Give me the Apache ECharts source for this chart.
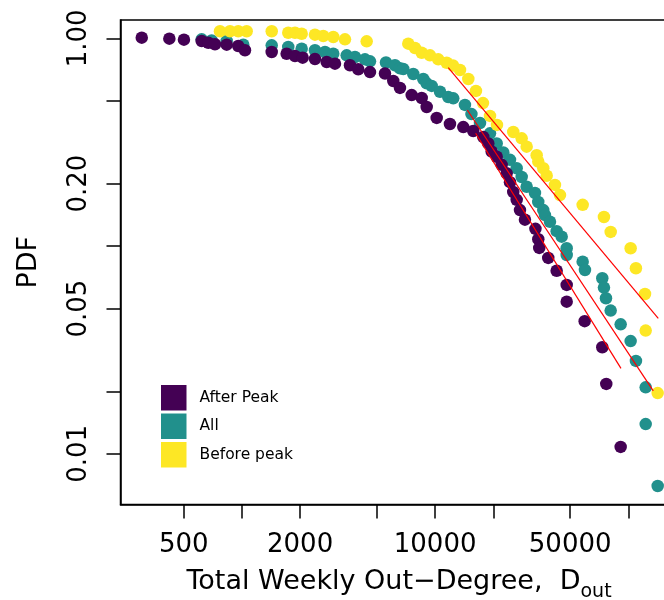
<!DOCTYPE html>
<html>
<head>
<meta charset="utf-8">
<script src="https://cdn.jsdelivr.net/npm/echarts@6/dist/echarts.min.js"></script>
<style>
html, body { margin: 0; padding: 0; background: #fff; }
#main { width: 664px; height: 600px; }
</style>
</head>
<body>
<div id="main"></div>
<script>
// points
var afterX = [303, 421, 501, 619, 670, 725, 834, 957, 1037, 1426, 1704, 1882, 2062, 2388, 2746, 3031, 3624, 4001, 4601, 5501,
    6073, 6577, 7560, 8520, 9041, 10190, 11930, 13990, 15750, 17750, 18840, 19620, 20830, 22100, 23460, 24410, 25380, 26430, 27490, 29170,
    33060, 34190, 34590, 38510, 42570, 47970, 47970, 59430, 73310, 76900, 91280];
var afterY = [1.007, 0.996, 0.985, 0.971, 0.952, 0.936, 0.932, 0.918, 0.876, 0.859, 0.843, 0.822, 0.807, 0.795, 0.769, 0.755, 0.742, 0.709, 0.688, 0.677,
    0.623, 0.577, 0.533, 0.516, 0.467, 0.414, 0.387, 0.374, 0.358, 0.335, 0.312, 0.285, 0.269, 0.246, 0.224, 0.203, 0.182, 0.167, 0.149, 0.134,
    0.121, 0.108, 0.098, 0.0877, 0.0761, 0.065, 0.054, 0.0435, 0.0326, 0.0217, 0.0108];

var allX = [619, 697, 834, 1016, 1426, 1737, 2038, 2388, 2691, 2970, 3485, 3847, 4334, 4601, 5567, 6197, 6577, 6841, 7706, 8683,
    9041, 9596, 10600, 11690, 12410, 14270, 15420, 17070, 19230, 20830, 22530, 24410, 26430, 28050, 29770, 32870, 34190, 36290, 37030, 39310,
    42570, 45190, 47970, 47970, 58030, 59650, 73310, 74800, 76620, 81030, 91280, 102800, 109500, 123000, 123000, 141900];
var allY = [0.989, 0.976, 0.971, 0.932, 0.925, 0.908, 0.891, 0.876, 0.859, 0.843, 0.828, 0.813, 0.792, 0.775, 0.765, 0.742, 0.717, 0.712, 0.673, 0.637,
    0.607, 0.590, 0.553, 0.522, 0.514, 0.478, 0.432, 0.391, 0.349, 0.312, 0.282, 0.260, 0.237, 0.215, 0.193, 0.180, 0.163, 0.149, 0.141, 0.131,
    0.118, 0.111, 0.0976, 0.0906, 0.0841, 0.0767, 0.070, 0.0631, 0.0561, 0.0489, 0.042, 0.0349, 0.028, 0.0209, 0.0139, 0.0070];

var beforeX = [770, 867, 957, 1058, 1426, 1737, 1882, 2038, 2388, 2636, 2970, 3415, 4423, 7261, 7863, 8520, 9404, 10380, 11480, 12370,
    13450, 14850, 16270, 17690, 19230, 20900, 25380, 28050, 29770, 33540, 34190, 36290, 37800, 41720, 44290, 58030, 74800, 81030, 102800, 109500,
    122000, 123000, 141900];
var beforeY = [1.081, 1.081, 1.081, 1.081, 1.081, 1.064, 1.064, 1.052, 1.041, 1.026, 1.015, 0.989, 0.967, 0.942, 0.898, 0.852, 0.828, 0.792, 0.763, 0.740,
    0.704, 0.637, 0.558, 0.488, 0.423, 0.383, 0.354, 0.330, 0.301, 0.274, 0.255, 0.237, 0.218, 0.197, 0.176, 0.158, 0.138, 0.117, 0.0976, 0.0782,
    0.0588, 0.0392, 0.0196];

// fitted power-law tails (end points)
var fitAfterX = [16210, 91600], fitAfterY = [0.349, 0.0258];
var fitAllX = [14670, 134600], fitAllY = [0.452, 0.0201];
var fitBeforeX = [11690, 142900], fitBeforeY = [0.722, 0.0449];

var xTicks = [500, 1000, 2000, 5000, 10000, 20000, 50000, 100000];
var xLabels = [500, 2000, 10000, 50000];
var yTicks = [0.01, 0.02, 0.05, 0.1, 0.2, 0.5, 1];
var yLabels = [0.01, 0.05, 0.2, 1];

var purple = '#440154', teal = '#21908C', yellow = '#FDE725';
var font = 'DejaVu Sans';

function pairs(xs, ys) {
    var out = [];
    for (var i = 0; i < xs.length; i++) out.push([xs[i], ys[i]]);
    return out;
}

function dots(name, color, xs, ys) {
    return {
        name: name, type: 'scatter', data: pairs(xs, ys),
        symbol: 'circle', symbolSize: 12.5,
        itemStyle: { color: color, opacity: 1 },
        silent: true
    };
}

function fit(xs, ys) {
    return {
        type: 'line', data: pairs(xs, ys), symbol: 'none', z: 5,
        lineStyle: { color: '#FF0000', width: 1.2 }, silent: true
    };
}

var myChart = echarts.init(document.getElementById('main'));

var option = {
    animation: false,
    grid: {
        left: 120.5, top: 20, right: -13.5, bottom: 95.6,
        outerBoundsMode: 'none', containLabel: false,
        show: true, borderColor: '#000', borderWidth: 1.5
    },
    legend: {
        data: [
            { name: 'After Peak', icon: 'rect' },
            { name: 'All', icon: 'rect' },
            { name: 'Before peak', icon: 'rect' }
        ],
        orient: 'vertical', left: 161, top: 385, padding: 0,
        itemWidth: 25.5, itemHeight: 25.5, itemGap: 3,
        selectedMode: false,
        textStyle: { fontSize: 15.5, fontFamily: font, color: '#000', padding: [0, 0, 0, 8] }
    },
    xAxis: {
        type: 'log', logBase: 10, min: 235.2, max: 179700,
        name: '{m|Total Weekly Out\u2212Degree,  D}{s|out}',
        nameLocation: 'middle', nameGap: 64,
        nameTextStyle: {
            rich: {
                m: { fontSize: 27, fontFamily: font, color: '#000', verticalAlign: 'top', lineHeight: 30 },
                s: { fontSize: 19, fontFamily: font, color: '#000', verticalAlign: 'top', lineHeight: 20, padding: [14, 0, 0, 0] }
            }
        },
        axisLine: { show: true, onZero: false, lineStyle: { color: '#000', width: 1.5 } },
        axisTick: { show: true, length: 14, customValues: xTicks, lineStyle: { color: '#000', width: 1.5 } },
        axisLabel: {
            customValues: xLabels, margin: 28, fontSize: 26, fontFamily: font, color: '#000',
            formatter: function (v) { return String(Math.round(v)); }
        },
        splitLine: { show: false },
        minorTick: { show: false }
    },
    yAxis: {
        type: 'log', logBase: 10, min: 0.00571, max: 1.225,
        name: 'PDF', nameLocation: 'middle', nameGap: 78,
        nameTextStyle: { fontSize: 27, fontFamily: font, color: '#000' },
        axisLine: { show: true, onZero: false, lineStyle: { color: '#000', width: 1.5 } },
        axisTick: { show: true, length: 14, customValues: yTicks, lineStyle: { color: '#000', width: 1.5 } },
        axisLabel: {
            customValues: yLabels, rotate: 90, margin: 28, fontSize: 26, fontFamily: font, color: '#000',
            formatter: function (v) { return Number(v).toFixed(2); }
        },
        splitLine: { show: false },
        minorTick: { show: false }
    },
    series: [
        dots('All', teal, allX, allY),
        dots('Before peak', yellow, beforeX, beforeY),
        dots('After Peak', purple, afterX, afterY),
        fit(fitBeforeX, fitBeforeY),
        fit(fitAllX, fitAllY),
        fit(fitAfterX, fitAfterY)
    ]
};

if (option && typeof option === "object") {
    myChart.setOption(option, true);
}
</script>
</body>
</html>
